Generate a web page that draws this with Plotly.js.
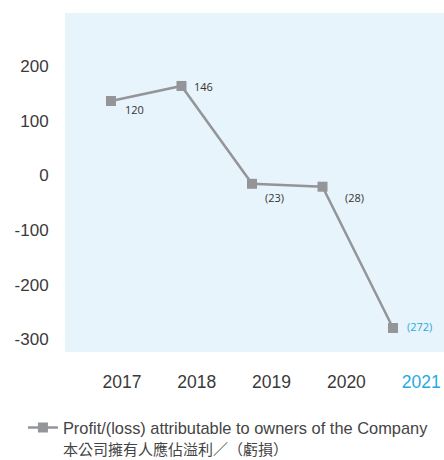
<!DOCTYPE html>
<html><head><meta charset="utf-8">
<script src="https://cdn.plot.ly/plotly-3.0.1.min.js"></script>
<style>html,body{margin:0;padding:0;background:#fff}</style>
</head><body><div id="chart" style="width:444px;height:460px"></div>
<script>
// ---- data ----
const years = ['2017', '2018', '2019', '2020', '2021'];
const profit = [120, 146, -23, -28, -272];
const yTicks = [200, 100, 0, -100, -200, -300];
const highlightYear = '2021';
const seriesNameEn = 'Profit/(loss) attributable to owners of the Company';
const seriesNameZh = '本公司擁有人應佔溢利／（虧損）';

// ---- styles ----
const GREY = '#939598';
const TXT = '#3a3a3a';
const CYAN = '#27aae1';
const FONT = 'Liberation Sans, Arial, Noto Sans CJK TC, sans-serif';

const fmt = v => v < 0 ? '(' + Math.abs(v) + ')' : String(v);
const labelOffsets = [[12, -8], [11, -1], [11, -14], [20, -11], [12, 1]];

const traces = [
  {
    x: years, y: profit, xaxis: 'x', yaxis: 'y',
    type: 'scatter', mode: 'lines+markers',
    name: seriesNameEn + '<br><span style="font-size:15px">' + seriesNameZh + '</span>',
    line: {color: GREY, width: 2.5},
    marker: {symbol: 'square', size: 10, color: GREY},
    hoverinfo: 'x+y'
  },
  {
    x: years, y: profit, xaxis: 'x2', yaxis: 'y2',
    type: 'scatter', mode: 'markers', showlegend: false, hoverinfo: 'skip',
    marker: {size: 1, opacity: 0}
  }
];

const annotations = years.map((yr, i) => ({
  xref: 'x', yref: 'y', x: i, y: profit[i],
  text: fmt(profit[i]), showarrow: false,
  xanchor: 'left', yanchor: 'middle',
  xshift: labelOffsets[i][0], yshift: labelOffsets[i][1],
  font: {family: 'Open Sans, sans-serif', size: 11, color: yr === highlightYear ? CYAN : '#333'}
}));

const layout = {
  width: 444, height: 460,
  margin: {l: 65, r: 0, t: 13, b: 108, pad: 0, autoexpand: false},
  paper_bgcolor: '#ffffff',
  plot_bgcolor: '#e8f4fb',
  font: {family: FONT, color: TXT},
  showlegend: true,
  legend: {
    x: -0.111, xanchor: 'left', y: -0.172, yanchor: 'top',
    valign: 'top', bgcolor: 'rgba(0,0,0,0)',
    font: {family: FONT, size: 16.4, color: '#444'}
  },
  xaxis: {type: 'category', range: [-0.652, 4.723], showticklabels: false, ticks: '',
          showgrid: false, zeroline: false, showline: false, fixedrange: true},
  yaxis: {range: [-313.5, 272], showticklabels: false, ticks: '',
          showgrid: false, zeroline: false, showline: false, fixedrange: true},
  xaxis2: {overlaying: 'x', anchor: 'y2', side: 'bottom', type: 'category',
           range: [-0.762, 4.305], tickmode: 'array', tickvals: years,
           ticktext: years.map(y => y === highlightYear ? '<span style="color:' + CYAN + '">' + y + '</span>' : y),
           ticks: 'outside', ticklen: 14, tickcolor: 'rgba(0,0,0,0)',
           tickfont: {family: FONT, size: 17.5, color: TXT},
           showgrid: false, zeroline: false, showline: false, fixedrange: true},
  yaxis2: {overlaying: 'y', anchor: 'x2', side: 'left',
           range: [-323.3, 297.6], tickmode: 'array', tickvals: yTicks,
           ticktext: yTicks.map(v => String(v)),
           ticks: 'outside', ticklen: 12, tickcolor: 'rgba(0,0,0,0)',
           tickfont: {family: FONT, size: 17, color: TXT},
           showgrid: false, zeroline: false, showline: false, fixedrange: true},
  annotations: annotations
};

Plotly.newPlot('chart', traces, layout, {displayModeBar: false, staticPlot: true});
</script>
</body></html>
